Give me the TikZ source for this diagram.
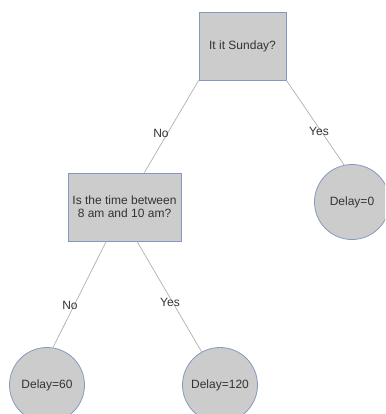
\documentclass[tikz,border=0pt]{standalone}
\usepackage{fontspec}
\setmainfont{Liberation Sans}
\definecolor{boxfill}{HTML}{CCCCCC}
\definecolor{boxline}{HTML}{8499BF}
\definecolor{edgeline}{HTML}{B0B0B0}
\definecolor{txt}{HTML}{333333}
\begin{document}
\begin{tikzpicture}[x=1pt,y=-1pt,
  question/.style={draw=boxline,fill=boxfill,line width=0.8pt,minimum height=68pt,
    inner sep=0pt,align=center,text=txt,font=\fontsize{12}{13}\selectfont},
  leaf/.style={circle,draw=boxline,fill=boxfill,line width=0.8pt,minimum size=75pt,
    inner sep=0pt,text=txt,font=\fontsize{12}{13}\selectfont},
  answer/.style={text=txt,font=\fontsize{12}{13}\selectfont,inner sep=0pt},
  branch/.style={draw=edgeline,line width=0.7pt}]
\useasboundingbox (0,0) rectangle (385,414);
\clip (0,0) rectangle (385,414);

% decision nodes
\node[question,minimum width=87pt] (sun) at (242.5,46) {It it Sunday?};
\node[question,minimum width=113pt] (time) at (124.5,207) {Is the time between\\ 8 am and 10 am?};

% outcomes
\node[leaf] (d0) at (352,202) {Delay=0};
\node[leaf] (d60) at (47,385) {Delay=60};
\node[leaf] (d120) at (220,385) {Delay=120};

% branches
\draw[branch] (sun.south west) -- (time.60);
\draw[branch] (sun.south east) -- (d0.102);
\draw[branch] (time.242) -- (d60.81);
\draw[branch] (time.-70) -- (d120.119);

% branch labels
\node[answer] (noA) at (161,133) {No};
\node[answer] (yesA) at (319,131) {Yes};
\node[answer] (noB) at (70,305) {No};
\node[answer] (yesB) at (170,302) {Yes};
\end{tikzpicture}
\end{document}
